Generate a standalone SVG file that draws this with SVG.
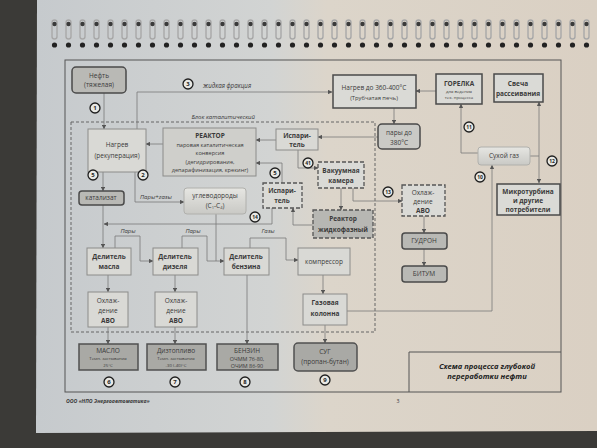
<svg xmlns="http://www.w3.org/2000/svg" width="597" height="448" viewBox="0 0 597 448">
<defs>
<linearGradient id="page" x1="0" y1="0" x2="1" y2="0">
<stop offset="0" stop-color="#c6cacd"/><stop offset="0.42" stop-color="#d2d4d3"/><stop offset="0.52" stop-color="#dcd5ca"/><stop offset="1" stop-color="#dad0c3"/>
</linearGradient>
<linearGradient id="soft" x1="0" y1="0" x2="0" y2="1">
<stop offset="0" stop-color="#e6e6e2"/><stop offset="1" stop-color="#c9c9c5"/>
</linearGradient>
<marker id="a" viewBox="0 0 6 6" refX="5.6" refY="3" markerUnits="userSpaceOnUse" markerWidth="4.5" markerHeight="4.5" orient="auto"><path d="M0,0 L6,3 L0,6 z" fill="#555"/></marker>
<pattern id="spiral" x="48" y="18" width="14" height="34" patternUnits="userSpaceOnUse">
<rect x="4" y="2" width="5" height="19" rx="2.5" fill="none" stroke="#a8a8a8" stroke-width="1.4"/>
<circle cx="6.5" cy="6" r="2.2" fill="#3a3a3a"/>
<circle cx="6.5" cy="27" r="2.6" fill="#222"/>
</pattern>
</defs>
<style>
.box{fill:#d9d9d5;stroke:#8c8c8a;stroke-width:1}
.hv{fill:#dadad6;stroke:#4a4a4a;stroke-width:1.5}
.rb{fill:#b9b9b5;stroke:#4a4a4a;stroke-width:1.5}
.prod{fill:#a9a9a5;stroke:#505050;stroke-width:1.5}
.soft{fill:url(#soft);stroke:#b0b0ac;stroke-width:1}
.dsh{fill:#dadad6;stroke:#555;stroke-width:1.3;stroke-dasharray:4 2}
.dshg{fill:#b7b7b3;stroke:#555;stroke-width:1.3;stroke-dasharray:4 2}
.t{font-family:"Open Sans","Liberation Sans",sans-serif;font-size:6.5px;fill:#3a3a3a;text-anchor:middle}
.b{font-weight:bold}
.s{font-size:4.3px}
.i{font-style:italic}
.c circle{fill:#e8e8e4;stroke:#1e1e1e;stroke-width:1.3}
.c text{font-family:"Open Sans","Liberation Sans",sans-serif;font-size:6px;font-weight:bold;fill:#1e1e1e;text-anchor:middle}
.ln{fill:none;stroke:#7a7a78;stroke-width:0.8}
.ar{marker-end:url(#a)}
</style>
<rect width="597" height="448" fill="#3b3a37"/>
<path d="M37,0 H597 V431 L36,433 Z" fill="url(#page)"/>
<rect x="48" y="18" width="549" height="34" fill="url(#spiral)"/>
<!-- frame -->
<rect x="65" y="60" width="496" height="332" fill="none" stroke="#555" stroke-width="1"/>
<path d="M409,392 V352 H561" fill="none" stroke="#555" stroke-width="1"/>
<text x="487" y="369" class="t b i" style="font-size:7.6px;fill:#222">Схема процесса глубокой</text>
<text x="487" y="379" class="t b i" style="font-size:7.6px;fill:#222">переработки нефти</text>
<text x="66" y="403" class="t b i" style="font-size:5.2px;text-anchor:start">ООО «НПО Энергоавтоматика»</text>
<text x="398" y="403" class="t" style="font-size:5.2px">3</text>
<!-- dashed block -->
<rect x="71" y="122" width="304" height="210" fill="none" stroke="#666" stroke-width="1" stroke-dasharray="3 2"/>
<text x="255" y="119" class="t i" style="text-anchor:end;font-size:6px">Блок каталитический</text>

<g id="connectors">
<path class="ln ar" d="M104,93 V129"/>
<path class="ln ar" d="M137,129 V92 H332"/>
<path class="ln ar" d="M163,144 H146"/>
<path class="ln ar" d="M276,140 H256"/>
<path class="ln ar" d="M378,137 H318"/>
<path class="ln ar" d="M394,108 V124"/>
<path class="ln ar" d="M436,91 H416"/>
<path class="ln ar" d="M478,153 H461 V104"/>
<path class="ln" d="M530,156 H539"/>
<path class="ln ar" d="M539,156 V102"/>
<path class="ln ar" d="M539,156 V183"/>
<path class="ln ar" d="M347,311 H492 V165"/>
<path class="ln ar" d="M298,150 V168 H318"/>
<path class="ln ar" d="M341,188 V210"/>
<path class="ln ar" d="M313,225 H293 V208"/>
<path class="ln ar" d="M282,183 V163 H256"/>
<path class="ln ar" d="M353,188 V201 H402"/>
<path class="ln ar" d="M424,216 V233"/>
<path class="ln ar" d="M424,249 V266"/>
<path class="ln ar" d="M103,172 V191"/>
<path class="ln ar" d="M135,172 V202 H184"/>
<path class="ln ar" d="M103,205 V248"/>
<path class="ln ar" d="M272,208 V224 H104"/>
<path class="ln ar" d="M115,248 V236 H140 V261 H153"/>
<path class="ln ar" d="M182,248 V236 H207 V261 H224"/>
<path class="ln" d="M216,214 V261"/>
<path class="ln ar" d="M250,248 V238 H286 V260 H298"/>
<path class="ln ar" d="M108,275 V292"/>
<path class="ln ar" d="M175,275 V292"/>
<path class="ln ar" d="M108,327 V344"/>
<path class="ln ar" d="M175,327 V344"/>
<path class="ln ar" d="M247,275 V344"/>
<path class="ln ar" d="M323,275 V294"/>
<path class="ln ar" d="M325,325 V343"/>
<text x="203" y="88" class="t i" style="text-anchor:start;font-size:6.2px">жидкая фракция</text>
<text x="140" y="199" class="t i" style="text-anchor:start;font-size:6px">Пары+газы</text>
<text x="128" y="233" class="t i" style="font-size:6px">Пары</text>
<text x="193" y="233" class="t i" style="font-size:6px">Пары</text>
<text x="268" y="233" class="t i" style="font-size:6px">Газы</text>
</g>

<g id="neft"><rect class="rb" x="72" y="67" width="54" height="26" rx="4"/><text x="99" y="78" class="t">Нефть</text><text x="99" y="87" class="t">(тяжелая)</text></g>
<g id="nagrev"><rect class="box" x="88" y="129" width="58" height="43"/><text x="117" y="147" class="t">Нагрев</text><text x="117" y="158" class="t">(рекуперация)</text></g>
<g id="reaktor"><rect class="box" x="163" y="128" width="93" height="48" style="fill:#cfcfcb"/><text x="210" y="138" class="t b">РЕАКТОР</text><text x="210" y="147" class="t" style="font-size:5.6px">паровая каталитическая</text><text x="210" y="155" class="t" style="font-size:5.6px">конверсия</text><text x="210" y="164" class="t" style="font-size:5.6px">(дегидрирование,</text><text x="210" y="172" class="t" style="font-size:5.6px">депарафинизация, крекинг)</text></g>
<g id="isparitel1"><rect class="box" x="276" y="129" width="42" height="21"/><text x="297" y="138" class="t b">Испари-</text><text x="297" y="147" class="t b">тель</text></g>
<g id="nagrev360"><rect class="hv" x="333" y="75" width="83" height="33"/><text x="374" y="90" class="t">Нагрев до 360-400°C</text><text x="374" y="100" class="t" style="font-size:5.8px">(Трубчатая печь)</text></g>
<g id="pary380"><rect class="rb" x="378" y="124" width="42" height="25" rx="4" style="fill:#cacac6"/><text x="399" y="135" class="t">пары до</text><text x="399" y="145" class="t">380°C</text></g>
<g id="gorelka"><rect class="hv" x="436" y="74" width="46" height="30"/><text x="459" y="86" class="t b">ГОРЕЛКА</text><text x="459" y="93" class="t s">для ведения</text><text x="459" y="99" class="t s">тех. процесса</text></g>
<g id="svecha"><rect class="hv" x="494" y="74" width="49" height="28"/><text x="518" y="86" class="t b">Свеча</text><text x="518" y="96" class="t b">рассеивания</text></g>
<g id="suhoigaz"><rect class="soft" x="478" y="147" width="52" height="18" rx="3"/><text x="504" y="158" class="t">Сухой газ</text></g>
<g id="mikroturbina"><rect class="hv" x="497" y="184" width="63" height="31"/><text x="528" y="194" class="t b">Микротурбина</text><text x="528" y="203" class="t b">и другие</text><text x="528" y="212" class="t b">потребители</text></g>
<g id="vakuum"><rect class="dsh" x="318" y="162" width="46" height="26"/><text x="341" y="173" class="t b">Вакуумная</text><text x="341" y="183" class="t b">камера</text></g>
<g id="isparitel2"><rect class="dsh" x="263" y="183" width="39" height="25"/><text x="282" y="193" class="t b">Испари-</text><text x="282" y="203" class="t b">тель</text></g>
<g id="reaktorzh"><rect class="dshg" x="313" y="210" width="60" height="28"/><text x="343" y="221" class="t b">Реактор</text><text x="343" y="232" class="t b">жидкофазный</text></g>
<g id="ohlazhd3"><rect class="dsh" x="402" y="185" width="43" height="31"/><text x="423" y="195" class="t">Охлаж-</text><text x="423" y="204" class="t">дение</text><text x="423" y="213" class="t b">АВО</text></g>
<g id="gudron"><rect class="rb" x="402" y="233" width="45" height="16" rx="3"/><text x="424" y="243" class="t">ГУДРОН</text></g>
<g id="bitum"><rect class="rb" x="402" y="266" width="45" height="16" rx="3"/><text x="424" y="276" class="t">БИТУМ</text></g>
<g id="katalizat"><rect class="rb" x="79" y="191" width="45" height="14" rx="3"/><text x="101" y="200" class="t">катализат</text></g>
<g id="uglevodorody"><rect class="soft" x="184" y="188" width="62" height="26" rx="3"/><text x="215" y="198" class="t">углеводороды</text><text x="215" y="208" class="t">(C<tspan style="font-size:4px" dy="1">1</tspan><tspan dy="-1">-C</tspan><tspan style="font-size:4px" dy="1">4</tspan><tspan dy="-1">)</tspan></text></g>
<g id="delmasla"><rect class="box" x="87" y="248" width="44" height="27"/><text x="109" y="259" class="t b">Делитель</text><text x="109" y="269" class="t b">масла</text></g>
<g id="deldizelya"><rect class="box" x="153" y="248" width="45" height="27"/><text x="175" y="259" class="t b">Делитель</text><text x="175" y="269" class="t b">дизеля</text></g>
<g id="delbenzina"><rect class="box" x="224" y="248" width="45" height="27"/><text x="246" y="259" class="t b">Делитель</text><text x="246" y="269" class="t b">бензина</text></g>
<g id="kompressor"><rect class="box" x="298" y="248" width="52" height="27"/><text x="324" y="264" class="t">компрессор</text></g>
<g id="gazkolonna"><rect class="box" x="303" y="294" width="44" height="31"/><text x="325" y="305" class="t b">Газовая</text><text x="325" y="316" class="t b">колонна</text></g>
<g id="ohlazhd1"><rect class="box" x="88" y="292" width="40" height="35"/><text x="108" y="303" class="t">Охлаж-</text><text x="108" y="313" class="t">дение</text><text x="108" y="323" class="t b">АВО</text></g>
<g id="ohlazhd2"><rect class="box" x="155" y="292" width="42" height="35"/><text x="176" y="303" class="t">Охлаж-</text><text x="176" y="313" class="t">дение</text><text x="176" y="323" class="t b">АВО</text></g>
<g id="maslo"><rect class="prod" x="79" y="344" width="59" height="26"/><text x="108" y="353" class="t">МАСЛО</text><text x="108" y="360" class="t s">Темп. застывания</text><text x="108" y="367" class="t s">25°C</text></g>
<g id="diztoplivo"><rect class="prod" x="147" y="344" width="59" height="26"/><text x="176" y="353" class="t">Дизтопливо</text><text x="176" y="360" class="t s">Темп. застывания</text><text x="176" y="367" class="t s">-30 (-40)°C</text></g>
<g id="benzin"><rect class="prod" x="217" y="344" width="61" height="26"/><text x="247" y="353" class="t">БЕНЗИН</text><text x="247" y="361" class="t" style="font-size:5.4px">ОЧММ 76-80,</text><text x="247" y="368" class="t" style="font-size:5.4px">ОЧИМ 86-90</text></g>
<g id="sug"><rect class="prod" x="294" y="343" width="63" height="28" rx="4"/><text x="325" y="354" class="t">СУГ</text><text x="325" y="364" class="t">(пропан-бутан)</text></g>

<g id="markers" class="c">
<circle cx="95" cy="108" r="5"/><text x="95" y="110.2">1</text>
<circle cx="188" cy="84" r="5"/><text x="188" y="86.2">3</text>
<circle cx="93" cy="175" r="5"/><text x="93" y="177.2">5</text>
<circle cx="143" cy="175" r="5"/><text x="143" y="177.2">2</text>
<circle cx="275" cy="173" r="5"/><text x="275" y="175.2">5</text>
<circle cx="308" cy="163" r="5"/><text x="308" y="165.2" style="font-size:5px">41</text>
<circle cx="255" cy="217" r="5"/><text x="255" y="219.2" style="font-size:5px">14</text>
<circle cx="388" cy="192" r="5"/><text x="388" y="194.2" style="font-size:5px">13</text>
<circle cx="469" cy="127" r="5"/><text x="469" y="129.2" style="font-size:5px">11</text>
<circle cx="480" cy="177" r="5"/><text x="480" y="179.2" style="font-size:5px">10</text>
<circle cx="552" cy="161" r="5"/><text x="552" y="163.2" style="font-size:5px">12</text>
<circle cx="109" cy="382" r="5"/><text x="109" y="384.2">6</text>
<circle cx="175" cy="382" r="5"/><text x="175" y="384.2">7</text>
<circle cx="245" cy="382" r="5"/><text x="245" y="384.2">8</text>
<circle cx="325" cy="380" r="5"/><text x="325" y="382.2">9</text>
</g>
</svg>
